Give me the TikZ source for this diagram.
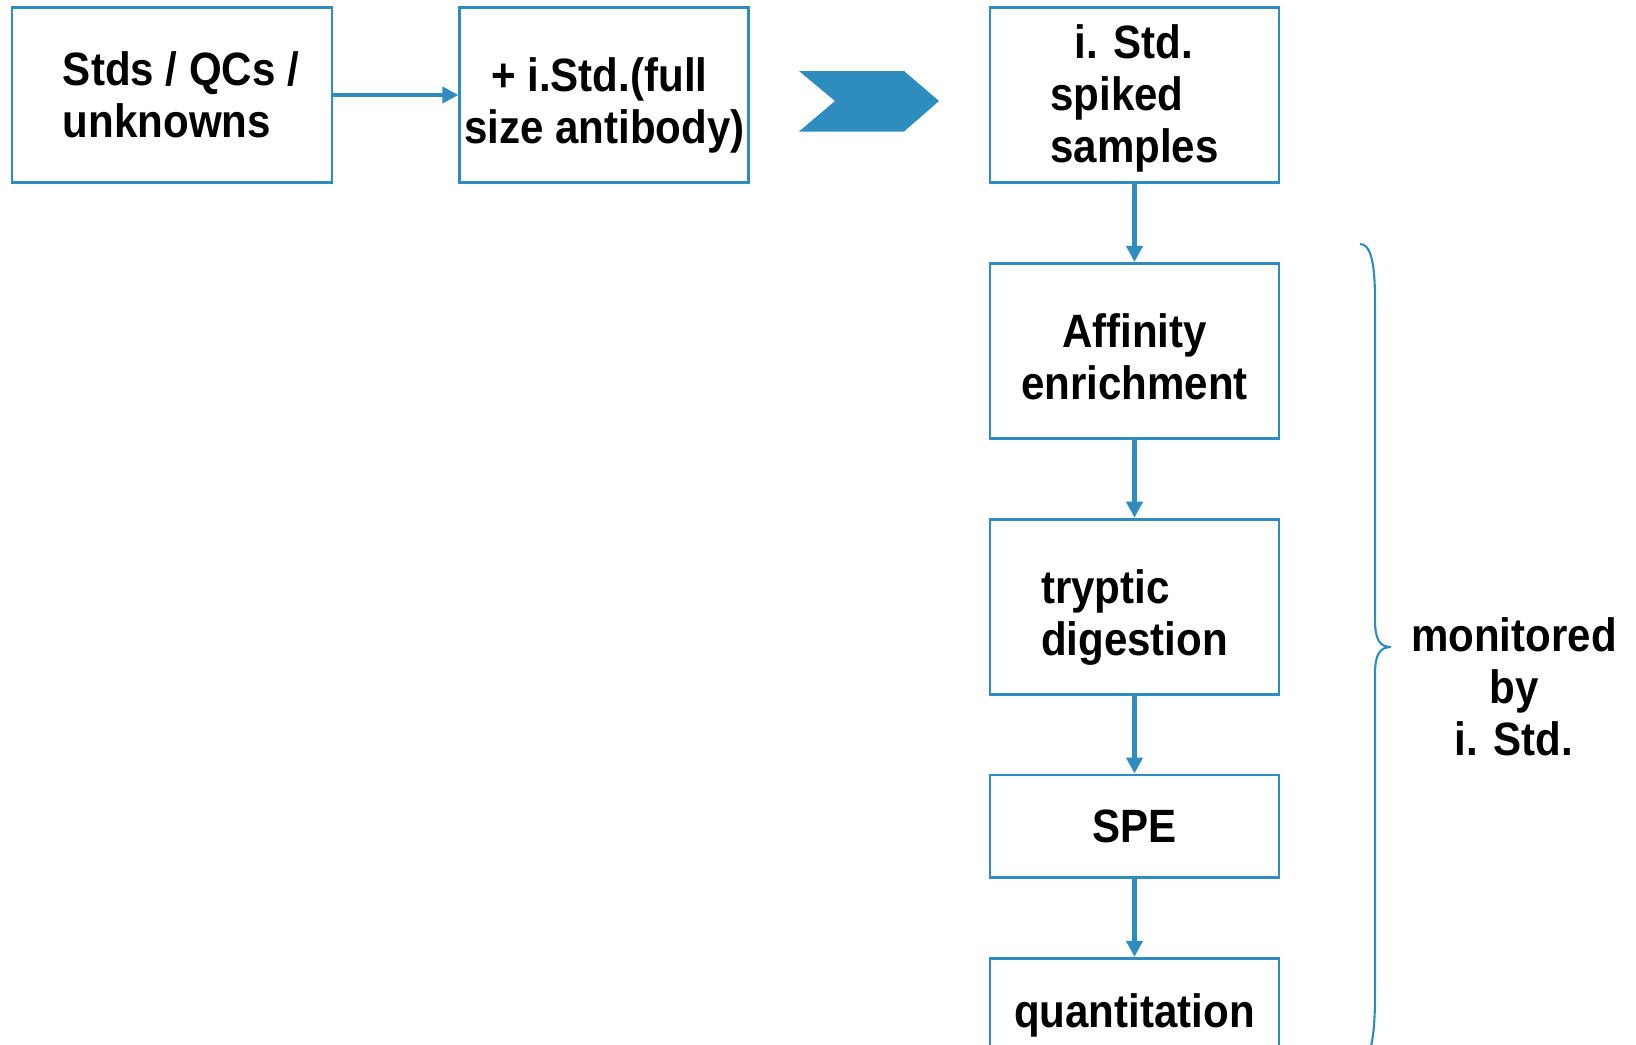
\documentclass[tikz,border=0pt]{standalone}
\usepackage{fontspec}
\setmainfont{Liberation Sans}[FakeStretch=0.9]
\usetikzlibrary{arrows.meta,positioning}
\definecolor{flowblue}{RGB}{46,141,190}
\newcommand{\lowered}[3]{\raisebox{-#1}[\height][\depth]{\begin{tabular}{@{}#2@{}}#3\end{tabular}}}

\begin{document}
\begin{tikzpicture}[node distance=7.8mm and 12.5mm]

\tikzset{stepbox/.style={draw=flowblue,line width=0.8pt,inner sep=0pt,minimum width=2.89cm,minimum height=1.75cm,font=\fontsize{13.3}{14.8}\selectfont\bfseries},
flowarrow/.style={draw=flowblue,line width=1.3pt,-{Triangle[length=1.6mm,width=1.6mm]}},
sidetext/.style={font=\fontsize{13.3}{14.8}\selectfont\bfseries,align=center}}

\useasboundingbox (0,0) rectangle (16.36,-10.44);

% top row
\node[stepbox,minimum width=3.2cm,align=left] (stds) at (1.72,-0.95) {\hspace*{0.18cm}Stds / QCs /\\\hspace*{0.18cm}unknowns};
\node[stepbox,right=of stds] (istd) {\lowered{0.125cm}{c}{\hspace*{-0.1cm}+ i.Std.(full\\size antibody)}};
\fill[flowblue] (7.99,-0.71) -- (9.04,-0.71) -- (9.39,-1.01) -- (9.04,-1.315) -- (7.99,-1.315) -- (8.35,-1.01) -- cycle;

% workflow column
\node[stepbox] (spiked) at (11.345,-0.95) {\lowered{0.055cm}{l}{\hspace*{0.24cm}i. Std.\\spiked\\samples}};
\node[stepbox,below=of spiked] (affinity) {\lowered{0.125cm}{c}{Affinity\\enrichment}};
\node[stepbox,below=of affinity] (digest) {\lowered{0.125cm}{l}{tryptic\\digestion}};
\node[stepbox,minimum height=1.025cm,below=of digest] (spe) {SPE};
\node[stepbox,minimum height=1.0cm,below=of spe] (quant) {\lowered{0.085cm}{c}{quantitation}};

% arrows
\draw[flowarrow,line width=1.1pt] (stds) -- (istd);
\foreach \a/\b in {spiked/affinity,affinity/digest,digest/spe,spe/quant} \draw[flowarrow] (\a) -- (\b);

% brace
\draw[flowblue,line width=0.6pt] (13.60,-2.44) .. controls (13.70,-2.44) and (13.75,-2.6) .. (13.75,-3.0) -- (13.75,-6.2) .. controls (13.75,-6.40) and (13.80,-6.47) .. (13.91,-6.47) .. controls (13.80,-6.47) and (13.75,-6.54) .. (13.75,-6.74) -- (13.75,-9.95) .. controls (13.75,-10.4) and (13.70,-10.6) .. (13.60,-10.65);
\node[sidetext] (monitor) at (15.14,-6.87) {monitored\\by\\i. Std.};

\end{tikzpicture}
\end{document}
